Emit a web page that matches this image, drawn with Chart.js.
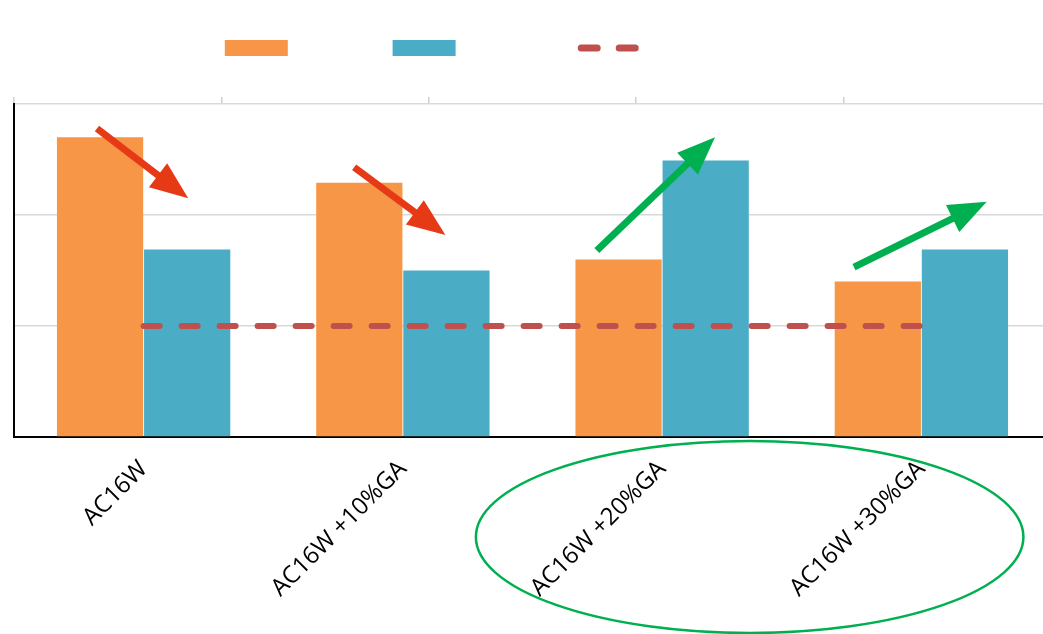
<!DOCTYPE html>
<html>
<head>
<meta charset="utf-8">
<script src="https://cdn.jsdelivr.net/npm/chart.js@4.4.0/dist/chart.umd.min.js"></script>
<style>
  html, body { margin: 0; padding: 0; background: #fff; overflow: hidden; }
  #chart { display: block; }
</style>
</head>
<body>
<canvas id="chart" width="1051" height="634"></canvas>
<script>
// mixes and measured values
var mixes = ['AC16W', 'AC16W +10%GA', 'AC16W +20%GA', 'AC16W +30%GA'];
var unaged = [2.70, 2.29, 1.60, 1.40];
var aged = [1.69, 1.50, 2.49, 1.69];
var required = [1.0, 1.0, 1.0, 1.0];

// trend arrows: start/end in (top axis, y) units
var arrows = [
  { x0: 0.40, y0: 2.78, x1: 0.84, y1: 2.15, color: '#E63A17' },
  { x0: 1.64, y0: 2.43, x1: 2.08, y1: 1.82, color: '#E63A17' },
  { x0: 2.81, y0: 1.68, x1: 3.38, y1: 2.70, color: '#00B050' },
  { x0: 4.05, y0: 1.53, x1: 4.69, y1: 2.12, color: '#00B050' }
];

function drawArrow(ctx, x0, y0, x1, y1, color) {
  var dx = x1 - x0, dy = y1 - y0;
  var len = Math.sqrt(dx * dx + dy * dy);
  var ux = dx / len, uy = dy / len;
  var head = 38, half = 15;
  var bx = x1 - ux * head, by = y1 - uy * head;
  ctx.save();
  ctx.strokeStyle = color;
  ctx.fillStyle = color;
  ctx.lineWidth = 7;
  ctx.beginPath();
  ctx.moveTo(x0, y0);
  ctx.lineTo(bx + ux * 2, by + uy * 2);
  ctx.stroke();
  ctx.beginPath();
  ctx.moveTo(x1, y1);
  ctx.lineTo(bx - uy * half, by + ux * half);
  ctx.lineTo(bx + uy * half, by - ux * half);
  ctx.closePath();
  ctx.fill();
  ctx.restore();
}

var markup = {
  id: 'markup',
  afterDraw: function(chart) {
    var ctx = chart.ctx;
    var sx = chart.scales.x2, sy = chart.scales.y;
    arrows.forEach(function(a) {
      drawArrow(ctx, sx.getPixelForValue(a.x0), sy.getPixelForValue(a.y0),
        sx.getPixelForValue(a.x1), sy.getPixelForValue(a.y1), a.color);
    });
    // ring around the GA mixes
    var cx = sx.getPixelForValue(3.547);
    var rx = sx.getPixelForValue(1.32) - sx.getPixelForValue(0);
    ctx.save();
    ctx.strokeStyle = '#00B050';
    ctx.lineWidth = 2.5;
    ctx.beginPath();
    ctx.ellipse(cx, chart.chartArea.bottom + 100, rx, 96, 0, 0, Math.PI * 2);
    ctx.stroke();
    ctx.restore();
  }
};

var ctx = document.getElementById('chart').getContext('2d');
var chart = new Chart(ctx, {
  type: 'bar',
  data: {
    labels: mixes,
    datasets: [{
      label: 'Control mix',
      data: unaged,
      backgroundColor: '#F79646',
      borderWidth: 0,
      order: 1
    }, {
      label: 'Aged mixtures',
      data: aged,
      backgroundColor: '#4BACC6',
      borderWidth: 0,
      order: 1
    }, {
      type: 'line',
      label: 'Required minimum value',
      data: required,
      borderColor: '#C0504D',
      backgroundColor: 'rgba(0,0,0,0)',
      borderWidth: 6,
      borderDash: [16, 22],
      borderCapStyle: 'round',
      pointRadius: 0,
      fill: false,
      order: 0
    }]
  },
  options: {
    responsive: false,
    animation: false,
    layout: { padding: { left: 14, top: 30, right: 0, bottom: 0 } },
    datasets: {
      bar: { categoryPercentage: 0.672, barPercentage: 0.99 }
    },
    plugins: {
      tooltip: { enabled: false },
      legend: {
        position: 'top',
        labels: {
          usePointStyle: true,
          pointStyleWidth: 63,
          boxHeight: 16,
          padding: 10,
          color: '#fff',
          font: { family: 'Open Sans', size: 16 },
          generateLabels: function(chart) {
            return chart.data.datasets.map(function(ds, i) {
              var isLine = ds.type === 'line';
              return {
                text: ds.label,
                datasetIndex: i,
                fillStyle: isLine ? 'rgba(0,0,0,0)' : ds.backgroundColor,
                strokeStyle: isLine ? ds.borderColor : ds.backgroundColor,
                lineWidth: isLine ? 7 : 0,
                lineDash: isLine ? ds.borderDash : [],
                lineCap: 'round',
                pointStyle: isLine ? 'line' : 'rect',
                fontColor: '#fff',
                hidden: false
              };
            });
          }
        }
      }
    },
    scales: {
      x: {
        type: 'category',
        offset: true,
        grid: { display: false },
        border: { color: '#000', width: 2 },
        ticks: {
          color: '#000',
          padding: 10,
          font: { family: 'Open Sans', size: 24 },
          minRotation: 45,
          maxRotation: 45,
          autoSkip: false
        },
        afterFit: function(s) { s.height = 197; }
      },
      // top axis only carries the short tick marks
      x2: {
        type: 'linear',
        position: 'top',
        offset: false,
        min: 0,
        max: 5,
        ticks: { display: false, stepSize: 1 },
        grid: { offset: false, drawOnChartArea: false, tickLength: 7, color: '#d0d0d0', lineWidth: 1.5 },
        border: { display: false },
        afterFit: function(s) { s.height = 38; }
      },
      y: {
        min: 0,
        max: 3,
        ticks: { display: false, stepSize: 1 },
        grid: { color: '#d9d9d9', lineWidth: 1.5, drawTicks: false },
        border: { color: '#000', width: 2 }
      }
    }
  },
  plugins: [markup]
});
</script>
</body>
</html>
